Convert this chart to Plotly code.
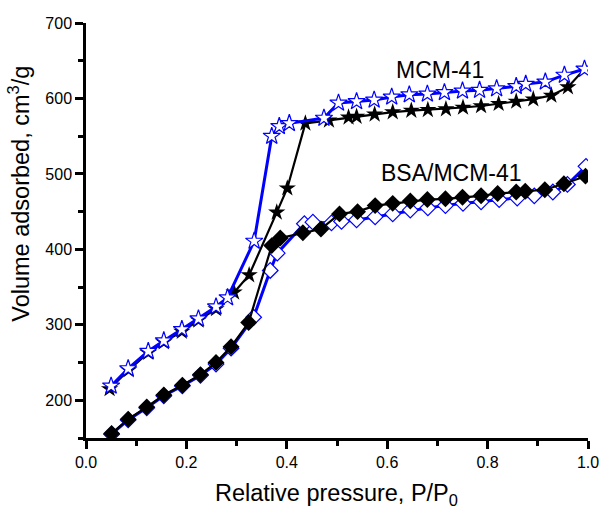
import plotly.graph_objects as go

# MCM-41 adsorption (black filled stars)
mcm_ads_x = [0.047, 0.085, 0.124, 0.155, 0.191, 0.224, 0.259, 0.295, 0.325, 0.380, 0.401, 0.437,
             0.484, 0.523, 0.539, 0.575, 0.611, 0.648, 0.681, 0.717, 0.751, 0.787, 0.822, 0.857,
             0.891, 0.927, 0.960, 0.993]
mcm_ads_y = [215, 240, 263, 277, 291, 306, 321, 343, 366, 449, 481, 567,
             571, 575, 576, 579, 582, 584, 585, 586, 588, 590, 593, 596,
             599, 604, 615, 639]

# MCM-41 desorption (blue open stars)
mcm_des_x = [0.050, 0.084, 0.124, 0.155, 0.191, 0.224, 0.259, 0.282, 0.335, 0.370, 0.385, 0.405,
             0.474, 0.503, 0.539, 0.574, 0.609, 0.644, 0.680, 0.714, 0.750, 0.784, 0.818, 0.857,
             0.876, 0.915, 0.953, 0.993]
mcm_des_y = [219, 242, 265, 279, 294, 308, 324, 336, 411, 550, 563, 567,
             574, 594, 596, 598, 602, 605, 606, 608, 610, 611, 613, 616,
             619, 622, 631, 639]

# BSA/MCM-41 adsorption (black filled diamonds)
bsa_ads_x = [0.051, 0.084, 0.121, 0.155, 0.192, 0.228, 0.259, 0.289, 0.324, 0.370, 0.387, 0.432,
             0.468, 0.505, 0.541, 0.576, 0.611, 0.646, 0.680, 0.716, 0.750, 0.787, 0.820, 0.857,
             0.875, 0.914, 0.952, 0.995]
bsa_ads_y = [156, 175, 191, 207, 220, 234, 250, 271, 303, 405, 415, 422,
             427, 447, 450, 458, 461, 464, 466, 467, 469, 471, 474, 476,
             477, 479, 487, 497]

# BSA/MCM-41 desorption (blue open diamonds)
bsa_des_x = [0.051, 0.084, 0.121, 0.155, 0.192, 0.228, 0.259, 0.289, 0.334, 0.367, 0.381, 0.435,
             0.452, 0.489, 0.509, 0.539, 0.576, 0.611, 0.646, 0.681, 0.716, 0.751, 0.787, 0.823,
             0.859, 0.893, 0.930, 0.959, 0.996]
bsa_des_y = [155, 174, 190, 206, 219, 233, 248, 269, 310, 372, 395, 434,
             436, 435, 437, 439, 443, 447, 452, 455, 458, 461, 463, 466,
             468, 471, 476, 486, 510]

x_ticks = [0.0, 0.2, 0.4, 0.6, 0.8, 1.0]
x_tick_labels = ["0.0", "0.2", "0.4", "0.6", "0.8", "1.0"]
y_ticks = [200, 300, 400, 500, 600, 700]
y_tick_labels = ["200", "300", "400", "500", "600", "700"]

BLUE = "#0000FF"
FONT = "Arial, Liberation Sans, sans-serif"

fig = go.Figure()
fig.add_trace(go.Scatter(x=bsa_des_x, y=bsa_des_y, mode="lines+markers",
                         line=dict(color=BLUE, width=3),
                         marker=dict(symbol="diamond", size=12, color="white",
                                     line=dict(color=BLUE, width=1.2))))
fig.add_trace(go.Scatter(x=bsa_ads_x, y=bsa_ads_y, mode="lines+markers",
                         line=dict(color="black", width=2.2),
                         marker=dict(symbol="diamond", size=13, color="black",
                                     line=dict(color="black", width=0))))
fig.add_trace(go.Scatter(x=mcm_ads_x, y=mcm_ads_y, mode="lines+markers",
                         line=dict(color="black", width=2.2),
                         marker=dict(symbol="star", size=13, color="black",
                                     line=dict(color="black", width=0))))
fig.add_trace(go.Scatter(x=mcm_des_x, y=mcm_des_y, mode="lines+markers",
                         line=dict(color=BLUE, width=3),
                         marker=dict(symbol="star", size=13, color="white",
                                     line=dict(color=BLUE, width=1.2))))

fig.add_annotation(x=0.705, y=638, text="MCM-41", showarrow=False,
                   font=dict(family=FONT, size=23, color="black"))
fig.add_annotation(x=0.728, y=501, text="BSA/MCM-41", showarrow=False,
                   font=dict(family=FONT, size=23, color="black"))

# axis titles
fig.add_annotation(xref="paper", yref="paper", x=0.499, y=-0.135,
                   text="Relative pressure, P/P<sub>0</sub>", showarrow=False,
                   xanchor="center", yanchor="middle",
                   font=dict(family=FONT, size=23.5, color="black"))
fig.add_annotation(xref="paper", yref="paper", x=-0.134, y=0.588,
                   text="Volume adsorbed, cm<sup>3</sup>/g", showarrow=False,
                   textangle=-90, xanchor="center", yanchor="middle",
                   font=dict(family=FONT, size=23.5, color="black"))

fig.update_layout(
    width=611, height=509,
    margin=dict(l=86, r=14, t=23, b=71),
    paper_bgcolor="white", plot_bgcolor="white",
    showlegend=False,
    font=dict(family=FONT, color="black"),
    xaxis=dict(range=[0, 1.0], tickvals=x_ticks, ticktext=x_tick_labels,
               showline=True, linecolor="black", linewidth=2.5, mirror=False,
               ticks="outside", ticklen=8, tickwidth=2.5, tickcolor="black",
               showgrid=False, zeroline=False,
               tickfont=dict(family=FONT, size=16, color="black"),
               minor=dict(dtick=0.1, tick0=0, ticks="outside", ticklen=5, tickwidth=2.5,
                          tickcolor="black", showgrid=False)),
    yaxis=dict(range=[150, 700], tickvals=y_ticks, ticktext=y_tick_labels,
               showline=True, linecolor="black", linewidth=2.5, mirror=False,
               ticks="outside", ticklen=8, tickwidth=2.5, tickcolor="black",
               showgrid=False, zeroline=False,
               tickfont=dict(family=FONT, size=16, color="black"),
               minor=dict(dtick=50, tick0=150, ticks="outside", ticklen=5, tickwidth=2.5,
                          tickcolor="black", showgrid=False)),
)

fig.write_html("out.html")
